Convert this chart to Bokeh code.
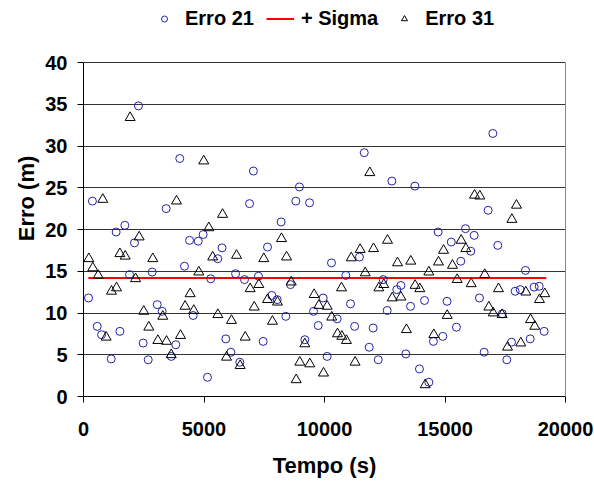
from bokeh.plotting import figure
from bokeh.models import Legend, LegendItem, Range1d, FixedTicker, LinearAxis, Title
from bokeh.embed import file_html
from bokeh.resources import INLINE

# ---- data ----
erro21_t = [207, 370, 570, 750, 1150, 1355, 1510, 1715, 1910, 2115, 2280, 2475, 2685, 2850,
            3060, 3265, 3430, 3640, 3830, 3995, 4190, 4400, 4550, 4760, 4965, 5145, 5280, 5570,
            5750, 5905, 6115, 6310, 6485, 6680, 6890, 7050, 7260, 7455, 7635, 7815, 8035, 8200,
            8395, 8590, 8810, 8960, 9185, 9380, 9545, 9740, 9945, 10110, 10290, 10525, 10885,
            11080, 11250, 11450, 11650, 11855, 12020, 12230, 12435, 12600, 12795, 13000, 13170,
            13375, 13570, 13750, 13940, 14150, 14330, 14520, 14715, 14910, 15085, 15260, 15475,
            15655, 15850, 16070, 16210, 16430, 16625, 16790, 16985, 17190, 17375, 17565, 17760,
            17910, 18120, 18340, 18535, 18700, 18910, 19115]
erro21_v = [11.8, 23.4, 8.4, 7.4, 4.5, 19.7, 7.8, 20.5, 14.6, 18.4, 34.8, 6.4, 4.4, 14.9,
            11.0, 10.2, 22.5, 4.8, 6.2, 28.5, 15.6, 18.7, 9.7, 18.6, 19.4, 2.3, 14.1, 16.5,
            17.8, 6.9, 5.3, 14.7, 4.1, 14.0, 23.1, 27.0, 14.4, 6.6, 17.9, 12.1, 11.6, 20.9,
            9.6, 13.4, 23.4, 25.1, 6.8, 23.2, 10.2, 8.5, 11.8, 4.8, 16.0, 9.3, 14.5,
            11.1, 8.4, 16.7, 29.2, 5.9, 8.2, 4.4, 14.0, 10.3, 25.8, 12.8, 13.3,
            5.1, 10.8, 25.2, 3.3, 11.5, 1.7, 6.6, 19.7, 7.2, 11.4, 18.5, 8.3,
            16.2, 20.1, 17.4, 19.3, 11.8, 5.3, 22.3, 31.5, 18.1, 9.9, 4.4, 6.5,
            12.6, 12.8, 15.1, 6.9, 13.1, 13.2, 7.8]

erro31_t = [220, 385, 610, 800, 940, 1160, 1370, 1510, 1730, 1935, 2160, 2310, 2500, 2710,
            2875, 3085, 3290, 3445, 3640, 3860, 4025, 4215, 4425, 4575, 4785, 4990, 5200, 5360,
            5575, 5770, 5935, 6140, 6350, 6500, 6710, 6915, 7085, 7275, 7480, 7635, 7840, 8050,
            8215, 8425, 8620, 8825, 8975, 9185, 9390, 9570, 9765, 9960, 10110, 10300, 10540,
            10705, 10720, 10910, 11110, 11270, 11480, 11690, 11880, 12035, 12255, 12460, 12615,
            12810, 13030, 13170, 13400, 13580, 13760, 13955, 14180, 14330, 14535, 14730, 14940,
            15090, 15310, 15505, 15670, 15865, 16085, 16225, 16445, 16650, 16820, 17000, 17220,
            17370, 17595, 17775, 17965, 18145, 18355, 18550, 18725, 18920, 19140]
erro31_v = [16.5, 15.4, 14.5, 23.6, 7.1, 12.6, 13.0, 17.1, 16.8, 33.4, 14.1, 19.1, 10.2, 8.3,
            16.5, 6.7, 9.6, 6.6, 5.0, 23.4, 7.3, 10.8, 12.3, 10.3, 14.9, 28.2, 20.2, 16.7,
            9.8, 21.8, 4.7, 9.1, 16.9, 3.7, 7.1, 12.9, 10.7, 13.4, 16.5, 11.6, 9.0, 11.3,
            18.9, 16.7, 13.7, 2.0, 4.1, 6.3, 3.9, 12.2, 10.9, 2.8, 10.8, 9.5, 7.5,
            13.0, 7.2, 6.7, 16.6, 4.1, 17.6, 14.8, 26.8, 17.7, 13.0, 13.4, 18.7,
            11.8, 16.0, 11.9, 8.0, 16.2, 13.3, 12.9, 1.4, 14.9, 7.4, 16.1, 17.5,
            9.7, 15.7, 14.0, 18.7, 17.7, 13.5, 24.1, 24.0, 14.6, 10.7, 10.0, 12.9,
            9.8, 5.9, 21.2, 22.9, 6.4, 12.5, 9.2, 8.4, 11.6, 12.3]

sigma_t = [200, 19200]
sigma_v = [14.2, 14.2]

x_ticks = [0, 5000, 10000, 15000, 20000]
y_ticks = [0, 5, 10, 15, 20, 25, 30, 35, 40]

FONT = "Liberation Sans"

# frame spans the whole height above the x axis; the data box is 0..40 (334 px of 396 px)
Y_MAX = 40
Y_TOP = Y_MAX * 396.0 / 334.0

p = figure(width=594, height=482, output_backend="svg", toolbar_location=None,
           x_range=Range1d(0, 20000), y_range=Range1d(0, Y_TOP),
           min_border_left=83, min_border_right=29, min_border_top=0, min_border_bottom=86)
p.background_fill_color = "white"
p.border_fill_color = "white"
p.outline_line_color = None

r_sigma = p.line(sigma_t, sigma_v, line_color="#ff0000", line_width=2)
r21 = p.scatter(erro21_t, erro21_v, marker="circle", size=8, fill_color=None,
                line_color="#2222a8", line_width=1)
r31 = p.scatter(erro31_t, erro31_v, marker="triangle", size=10, fill_color=None,
                line_color="black", line_width=1)

for ax in (p.xaxis[0], p.yaxis[0]):
    ax.axis_line_color = "black"
    ax.major_tick_line_color = "black"
    ax.major_tick_out = 6
    ax.major_tick_in = 0
    ax.minor_tick_line_color = None
    ax.major_label_text_font = FONT
    ax.major_label_text_font_style = "bold"
    ax.major_label_text_font_size = "20px"
    ax.major_label_text_color = "black"
    ax.axis_label_text_font = FONT
    ax.axis_label_text_font_style = "bold"
    ax.axis_label_text_font_size = "22px"
    ax.axis_label_text_color = "black"

p.yaxis.bounds = (0, Y_MAX)
p.xaxis.ticker = FixedTicker(ticks=x_ticks)
p.yaxis.ticker = FixedTicker(ticks=y_ticks)
p.xaxis.axis_label = "Tempo (s)"
p.xaxis.major_label_standoff = 19
p.yaxis.major_label_standoff = 10
p.xaxis.axis_label_standoff = 14

# y axis title, centred on the 0..40 box (shifted down from the full frame centre)
ytitle = Title(text="Erro (m)", align="center", offset=-31, standoff=8,
               text_font=FONT, text_font_style="bold", text_font_size="22px",
               text_color="black")
p.add_layout(ytitle, "left")

# right border of the plot box
right_axis = LinearAxis(bounds=(0, Y_MAX), ticker=FixedTicker(ticks=[]),
                        axis_line_color="#888888", major_label_text_font_size="0px",
                        major_tick_line_color=None, minor_tick_line_color=None)
p.add_layout(right_axis, "right")

p.xgrid.grid_line_color = None
p.ygrid.ticker = FixedTicker(ticks=y_ticks)
p.ygrid.grid_line_color = "#333333"
p.ygrid.grid_line_width = 1

legend = Legend(items=[LegendItem(label="Erro 21", renderers=[r21]),
                       LegendItem(label="+ Sigma", renderers=[r_sigma]),
                       LegendItem(label="Erro 31", renderers=[r31])],
                orientation="horizontal", location=(67, 366),
                border_line_color=None, background_fill_alpha=0,
                label_text_font=FONT, label_text_font_style="bold",
                label_text_color="black", label_height=20,
                label_text_font_size="20px", glyph_width=28, glyph_height=15,
                label_standoff=7, spacing=12, padding=0, margin=0)
p.add_layout(legend, "center")

open("out.html", "w").write(file_html(p, INLINE))
